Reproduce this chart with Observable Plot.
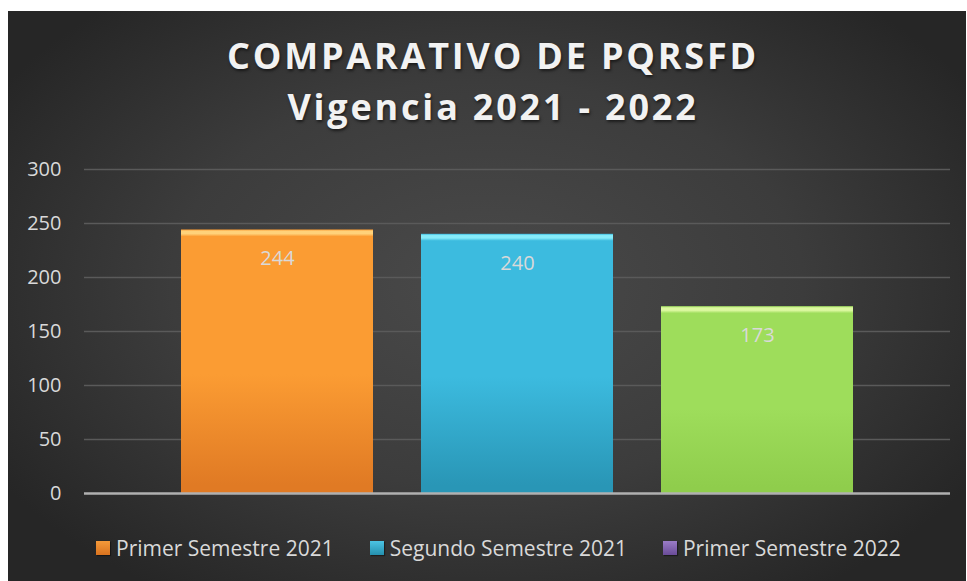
<!DOCTYPE html>
<html>
<head>
<meta charset="utf-8">
<script src="https://cdn.jsdelivr.net/npm/d3@7"></script>
<script src="https://cdn.jsdelivr.net/npm/@observablehq/plot@0.6"></script>
<style>
  html, body { margin: 0; padding: 0; background: #fff; }
  #wrap { position: relative; width: 967px; height: 581px; background: #fff; overflow: hidden; font-family: "Open Sans", sans-serif; }
  #panel { position: absolute; left: 8px; top: 11px; width: 958px; height: 570px;
    background: radial-gradient(ellipse 60% 65% at 50% 48%, #4a4a4a 0%, #3c3c3c 55%, #262626 100%); }
  #title { position: absolute; left: 12px; top: 19px; width: 946px; text-align: center; color: #f2f2f2;
    font-weight: 700; font-size: 36px; line-height: 51px; letter-spacing: 2.8px;
    text-shadow: 1px 2px 3px rgba(0,0,0,0.55); }
  #chart { position: absolute; left: 0; top: 139px; }
  #legend { position: absolute; left: 88px; top: 523px; display: flex; align-items: center; color: #d9d9d9; font-size: 21px; line-height: 28px; }
  .item { display: flex; align-items: center; margin-right: 36px; }
  .sw { width: 14px; height: 14px; margin-right: 6px; box-shadow: 1px 1px 1px rgba(0,0,0,0.4); }
</style>
</head>
<body>
<div id="wrap">
  <div id="panel">
    <div id="title"></div>
    <div id="chart"></div>
    <div id="legend"></div>
  </div>
</div>
<script>
const titleLines = ["COMPARATIVO DE PQRSFD", "Vigencia 2021 - 2022"];
const categories = ["Primer Semestre 2021", "Segundo Semestre 2021", "Primer Semestre 2022"];
const values = [244, 240, 173];
const yTicks = [0, 50, 100, 150, 200, 250, 300];
const barColors = [
  {bevel: "#ffd27a", top: "#fb9c33", bottom: "#e07a24"},
  {bevel: "#86ecfa", top: "#3cbbdf", bottom: "#2996b6"},
  {bevel: "#dcf8a0", top: "#9edd5b", bottom: "#8fcd4c"}
];
const legendColors = [
  {top: "#f59a3a", bottom: "#d9731f"},
  {top: "#4cc3e3", bottom: "#2590ae"},
  {top: "#9a7cc6", bottom: "#6a4c98"}
];

document.getElementById("title").innerHTML = titleLines.map(t => `<div>${t}</div>`).join("");

const data = categories.map((c, i) => ({category: c, value: values[i], idx: i}));

const chart = Plot.plot({
  width: 958,
  height: 360,
  marginLeft: 76,
  marginRight: 16,
  marginTop: 19,
  marginBottom: 17,
  style: {background: "transparent", color: "#d9d9d9", fontFamily: "Open Sans, sans-serif", fontSize: "20px", overflow: "visible"},
  x: {domain: categories, paddingInner: 0.2, paddingOuter: 0.404, axis: null},
  y: {domain: [0, 300], label: null, axis: null},
  marks: [
    Plot.ruleY(yTicks.filter(d => d !== 0), {stroke: "#5a5a5a", strokeWidth: 1.5}),
    Plot.axisY({ticks: yTicks, tickSize: 0, tickPadding: 23, label: null, fill: "#d9d9d9", fontSize: 20}),
    ...data.map((d, i) => Plot.barY([d], {x: "category", y: "value", fill: `url(#barGrad${i})`, style: "filter: drop-shadow(2px 1px 2px rgba(0,0,0,0.6))"})),
    Plot.ruleY([0], {stroke: "#b0b0b0", strokeWidth: 2.5}),
    Plot.text(data, {x: "category", y: "value", text: d => String(d.value), lineAnchor: "top", dy: 21, fill: "#d9d9d9", fontSize: 20})
  ]
});

// gradient defs (styling only)
const ns = "http://www.w3.org/2000/svg";
const ys = chart.scale("y");
const defs = document.createElementNS(ns, "defs");
data.forEach((d, i) => {
  const h = ys.apply(0) - ys.apply(d.value);
  const f = 7 / h;
  const g = document.createElementNS(ns, "linearGradient");
  g.setAttribute("id", `barGrad${i}`);
  g.setAttribute("x1", "0"); g.setAttribute("y1", "0");
  g.setAttribute("x2", "0"); g.setAttribute("y2", "1");
  const c = barColors[i];
  [[0, c.top], [f * 0.25, c.bevel], [f * 0.6, c.bevel], [f, c.top], [0.55, c.top], [0.97, c.bottom], [1, c.bottom]].forEach(([o, col]) => {
    const s = document.createElementNS(ns, "stop");
    s.setAttribute("offset", o);
    s.setAttribute("stop-color", col);
    g.appendChild(s);
  });
  defs.appendChild(g);
});
chart.insertBefore(defs, chart.firstChild);
document.getElementById("chart").appendChild(chart);

document.getElementById("legend").innerHTML = categories.map((c, i) =>
  `<div class="item"><div class="sw" style="background:linear-gradient(${legendColors[i].top}, ${legendColors[i].bottom})"></div><span>${c}</span></div>`
).join("");
</script>
</body>
</html>
